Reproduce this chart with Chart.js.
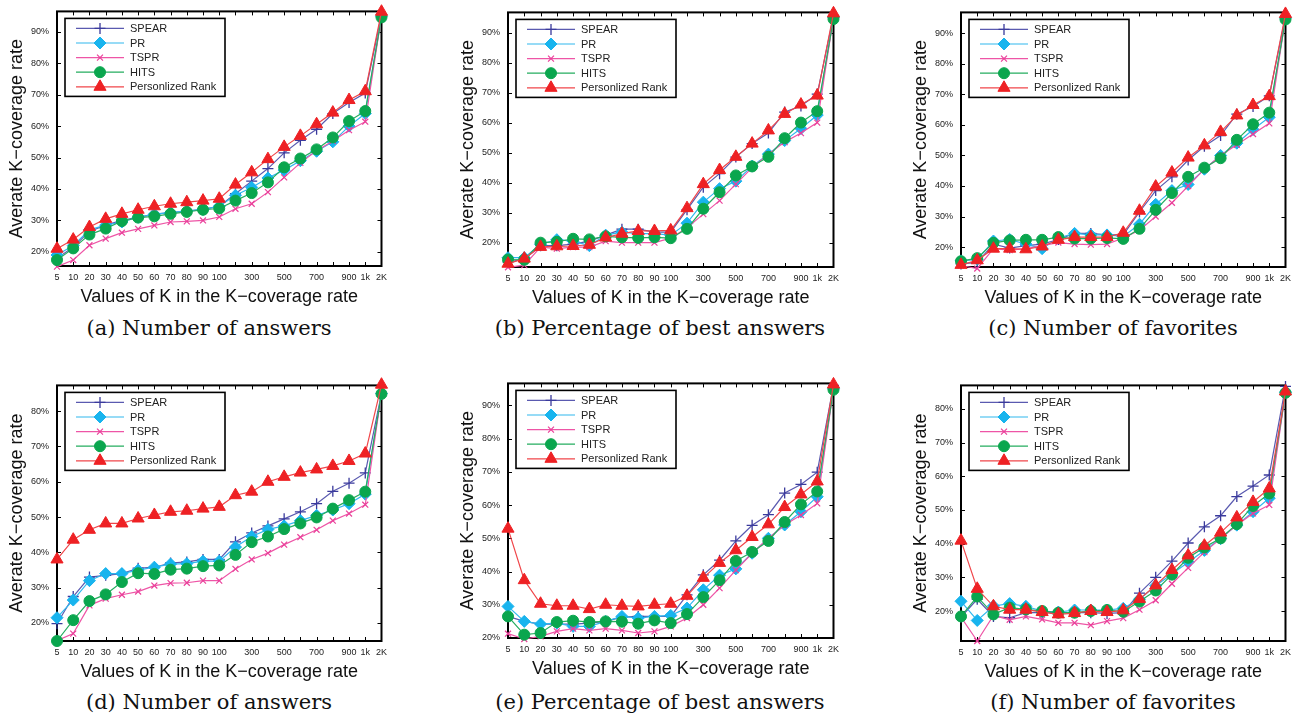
<!DOCTYPE html>
<html>
<head>
<meta charset="utf-8">
<script src="https://cdn.jsdelivr.net/npm/chart.js@4.4.1/dist/chart.umd.min.js"></script>
<style>
  html, body { margin: 0; padding: 0; background: #fff; width: 1299px; height: 715px; overflow: hidden; }
  .panel { position: absolute; }
  .caption { position: absolute; width: 440px; text-align: center; font-family: "DejaVu Serif", serif; font-size: 21px; color: #111; line-height: 24px; white-space: nowrap; }
</style>
</head>
<body>
<div class="panel" id="pa"><canvas id="ca"></canvas></div>
<div class="panel" id="pb"><canvas id="cb"></canvas></div>
<div class="panel" id="pc"><canvas id="cc"></canvas></div>
<div class="panel" id="pd"><canvas id="cd"></canvas></div>
<div class="panel" id="pe"><canvas id="ce"></canvas></div>
<div class="panel" id="pf"><canvas id="cf"></canvas></div>
<div class="caption" id="capa">(a) Number of answers</div>
<div class="caption" id="capb">(b) Percentage of best answers</div>
<div class="caption" id="capc">(c) Number of favorites</div>
<div class="caption" id="capd">(d) Number of answers</div>
<div class="caption" id="cape">(e) Percentage of best answers</div>
<div class="caption" id="capf">(f) Number of favorites</div>
<script>
// ---------- DATA ----------
const categories = ['5','10','20','30','40','50','60','70','80','90','100','200','300','400','500','600','700','800','900','1k','2K'];
const tickLabels = ['5','10','20','30','40','50','60','70','80','90','100','','300','','500','','700','','900','1k','2K'];
const seriesNames = ['SPEAR','PR','TSPR','HITS','Personlized Rank'];
const captions = ['(a) Number of answers','(b) Percentage of best answers','(c) Number of favorites','(d) Number of answers','(e) Percentage of best answers','(f) Number of favorites'];
const yTickValues = [20, 30, 40, 50, 60, 70, 80, 90];

const aSpear = [18, 21.5, 26.5, 28.5, 30, 31, 32, 32.5, 33, 33.5, 34.5, 38.5, 42.5, 46.5, 51.5, 55.5, 59, 64, 67.5, 70.5, 95.5];
const aPr    = [19, 22, 27, 28.5, 29.5, 31, 32, 32.5, 33, 33.5, 34.5, 38, 40.5, 43.5, 46, 49, 52, 55, 60, 64, 95];
const aTspr  = [15.3, 17.4, 22.1, 24.2, 26.1, 27.3, 28.4, 29.5, 29.7, 30.0, 31.1, 33.7, 35.3, 39, 43.7, 48.3, 52.2, 55.3, 58.7, 61.4, 95];
const aHits  = [17.4, 21.1, 25.5, 27.4, 29.8, 30.9, 31.3, 32.1, 32.7, 33.4, 33.8, 36.3, 38.7, 42.1, 46.9, 49.7, 52.6, 56.4, 61.6, 64.8, 94.6];
const aPers  = [21.0, 23.9, 27.9, 30.5, 32.1, 33.4, 34.5, 35.3, 35.8, 36.3, 36.9, 41.4, 45.3, 49.5, 53.4, 56.9, 60.6, 64.3, 68.3, 71.1, 96.4];

const bSpear = [13.5, 14.5, 19, 19, 19.5, 20.5, 22.5, 24.5, 24.5, 23.5, 23.5, 31, 38.5, 43, 48.5, 53, 56.5, 63.5, 65.5, 69.5, 95.5];
const bPr    = [15, 15, 19.5, 21, 20.5, 19, 22.5, 23.5, 23, 23, 22.5, 26.5, 33.5, 38, 40.5, 45.5, 49.5, 54, 58, 62.5, 95];
const bTspr  = [11.8, 12.5, 18.5, 18, 18.5, 18.5, 20.5, 20, 20, 20, 21.5, 25, 29.5, 34, 39.5, 45, 49.5, 53.5, 56.5, 60, 95];
const bHits  = [14.4, 14.3, 20, 20.3, 21.3, 21.1, 22.1, 21.8, 21.6, 21.8, 21.5, 24.6, 31.3, 36.8, 42.4, 45.4, 48.6, 54.8, 60, 63.8, 94.5];
const bPers  = [13.0, 14.7, 18.6, 18.8, 18.9, 19.3, 21.7, 23, 23.9, 23.9, 24.1, 31.5, 39.5, 44.2, 48.6, 53, 57.4, 62.9, 66, 69, 96.4];

const cSpear = [14.5, 15, 21, 19.7, 20.5, 21, 22.5, 24.5, 24.5, 24, 24, 31.5, 38.5, 43, 48.5, 53, 56.5, 63.5, 66, 69.5, 95.5];
const cPr    = [15.5, 16, 22, 22.5, 21, 19.5, 23, 24.5, 24, 24, 23.5, 27.5, 34, 38.5, 40.5, 45.5, 50, 54, 58.5, 62.5, 95];
const cTspr  = [14, 13, 19.5, 19, 19.5, 20.5, 21.5, 21, 20.8, 21, 23, 25.5, 30, 34.5, 40, 45.5, 50, 53.5, 57, 60.5, 95];
const cHits  = [15.4, 16.4, 21.4, 22.2, 22.4, 22.4, 23.3, 22.8, 22.8, 23, 22.7, 26, 32.2, 37.7, 43, 46, 49.1, 55.1, 60.2, 64, 94.5];
const cPers  = [14.2, 15.7, 19.5, 19.5, 19.3, 20.2, 22.4, 23.3, 23.3, 23.3, 24.7, 31.9, 39.8, 44.4, 49.3, 53.3, 57.7, 63.1, 66.5, 69.4, 96.3];

const dSpear = [19.8, 27.5, 33, 33.5, 34, 35.5, 35.8, 37, 37.3, 38, 38, 43, 45.5, 47.5, 49.5, 51.5, 53.8, 57.3, 59.6, 62.5, 85];
const dPr    = [21.5, 26.5, 32, 34, 34, 35, 35.8, 36.7, 36.8, 37.5, 37.5, 41.5, 44.5, 46.5, 47.5, 49, 50.5, 52, 53.8, 56.5, 85];
const dTspr  = [15, 17, 25, 26.9, 28, 28.9, 30.6, 31.3, 31.4, 32, 32, 35.3, 38, 39.8, 42.2, 44.3, 46.4, 49, 51, 53.5, 85];
const dHits  = [14.9, 20.8, 26.2, 28.1, 31.6, 34.1, 33.9, 35.1, 35.4, 36.1, 36.3, 39.3, 42.9, 44.5, 46.6, 48.2, 49.9, 52.4, 54.8, 57.2, 84.9];
const dPers  = [38.0, 43.6, 46.4, 48.2, 48.2, 49.6, 50.6, 51.5, 51.8, 52.4, 52.9, 56.2, 57.2, 60, 61.4, 62.6, 63.5, 64.5, 65.9, 68, 87.5];

const eSpear = [26.5, 25, 24.2, 24.2, 24.2, 24.5, 25, 26.3, 26.5, 26.5, 26.5, 33, 39, 43.4, 49.2, 53.9, 57.1, 63.6, 66.2, 69.9, 96];
const ePr    = [29.5, 25, 24.2, 24.5, 23.5, 23.5, 25, 26.5, 26, 26.5, 26.8, 29, 34.5, 38.9, 40.8, 45.5, 50, 54, 58, 62.5, 95];
const eTspr  = [21.3, 19.7, 20.5, 22, 22.8, 22.3, 22.8, 22.3, 21.5, 22, 23.5, 26, 30, 35, 40.4, 45.5, 50, 54, 57, 60.5, 95];
const eHits  = [26.5, 21, 21.5, 24.8, 25.2, 24.8, 25, 24.9, 24.3, 25.3, 24.5, 27.2, 32.3, 37.4, 43.2, 45.9, 49.2, 54.9, 60.2, 64.1, 94.7];
const ePers  = [52.9, 37.4, 30.3, 29.7, 29.7, 28.7, 30, 29.7, 29.5, 30, 30.3, 32.7, 38.1, 42.6, 46.4, 50.4, 54.2, 59.4, 63.2, 67.1, 96.3];

const fSpear = [18.2, 23.5, 18.4, 18, 19.5, 19.5, 19.5, 19.5, 19.5, 19.3, 19.5, 25.3, 30, 34.8, 40.2, 45, 48.3, 54, 57.1, 60.4, 86.7];
const fPr    = [22.9, 17.2, 21.5, 22.2, 21.4, 20, 19.7, 20.3, 20.3, 20.3, 20.8, 23.5, 27.5, 31, 34.5, 38, 41.5, 45.5, 49.5, 53.5, 85];
const fTspr  = [18.2, 11.1, 18.7, 17.4, 18.4, 17.5, 16.5, 16.5, 15.8, 17, 17.9, 20.4, 23.2, 28.1, 32.8, 37.5, 41.5, 45.5, 49, 51.5, 85];
const fHits  = [18.4, 24.3, 19, 21, 20.5, 20, 19.5, 19.5, 20, 20.3, 19.8, 22.8, 26.1, 30.8, 35.8, 38.9, 41.6, 45.8, 51.2, 54.9, 84.8];
const fPers  = [40.9, 26.6, 21.4, 20.4, 20.4, 19.7, 19, 19.4, 20, 19.7, 20.2, 23.6, 27.6, 32.2, 36.5, 39.4, 43.3, 47.8, 52.4, 56.4, 85.2];

const yMins = [15.5, 11.9, 13.5, 14.9, 20, 11.1];
const yMaxs = [96.5, 96.7, 96.8, 87.3, 96.6, 87.0];

// ---------- STYLE / LAYOUT ----------
const seriesStyle = [
  { color: '#3a3a9c', line: '#5a5ab0', pointStyle: 'cross',    radius: 5.5, bw: 1.3, fill: false },
  { color: '#18b4ee', line: '#30b8ee', pointStyle: 'rectRot',  radius: 6,   bw: 1,   fill: true },
  { color: '#ea3f9a', line: '#ee55a6', pointStyle: 'crossRot', radius: 4.2, bw: 1.2, fill: false },
  { color: '#0aa64e', line: '#25ad5f', pointStyle: 'circle',   radius: 5.5, bw: 1,   fill: true },
  { color: '#ee2124', line: '#f0464a', pointStyle: 'triangle', radius: 7,   bw: 1,   fill: true }
];
// plot rectangles [left, top, right, bottom]
const plotRects = [
  [57, 10, 383, 266], [508, 11, 835, 267], [961, 11, 1287, 267],
  [57, 384, 383, 641], [508, 382, 835, 638], [961, 384, 1287, 641]
];
const captionCenters = [[209, 328], [660, 328], [1113, 328], [209, 702], [660, 702], [1113, 702]];
const AXW = 57, PADT = 12, PADR = 10, AXH = 46;

const panelData = [
  [aSpear, aPr, aTspr, aHits, aPers],
  [bSpear, bPr, bTspr, bHits, bPers],
  [cSpear, cPr, cTspr, cHits, cPers],
  [dSpear, dPr, dTspr, dHits, dPers],
  [eSpear, ePr, eTspr, eHits, ePers],
  [fSpear, fPr, fTspr, fHits, fPers]
];

function drawMarker(ctx, st, x, y) {
  ctx.save();
  ctx.strokeStyle = st.color;
  ctx.fillStyle = st.color;
  ctx.lineWidth = st.bw;
  Chart.helpers.drawPoint(ctx, { pointStyle: st.pointStyle, radius: st.radius, rotation: 0, borderWidth: st.bw }, x, y);
  ctx.restore();
}

const framePlugin = {
  id: 'frame',
  beforeDatasetsDraw(chart) {
    const { ctx, chartArea: a, scales } = chart;
    const xs = scales.x, ys = scales.y;
    ctx.save();
    ctx.strokeStyle = '#000';
    ctx.lineWidth = 1;
    const TL = 4;
    ctx.beginPath();
    for (let i = 0; i < categories.length; i++) {
      const px = Math.round(xs.getPixelForValue(i)) + 0.5;
      ctx.moveTo(px, a.bottom); ctx.lineTo(px, a.bottom - TL);
      ctx.moveTo(px, a.top); ctx.lineTo(px, a.top + TL);
    }
    for (const v of yTickValues) {
      if (v < ys.min || v > ys.max) continue;
      const py = Math.round(ys.getPixelForValue(v)) + 0.5;
      ctx.moveTo(a.left, py); ctx.lineTo(a.left + TL, py);
      ctx.moveTo(a.right, py); ctx.lineTo(a.right - TL, py);
    }
    ctx.stroke();
    ctx.lineWidth = 2;
    ctx.strokeRect(a.left, a.top, a.right - a.left, a.bottom - a.top);
    ctx.restore();
  },
  afterDatasetsDraw(chart) {
    const { ctx, chartArea: a } = chart;
    const bx = a.left + 8, by = a.top + 7, bw = 160, bh = 78;
    ctx.save();
    ctx.fillStyle = '#fff';
    ctx.fillRect(bx, by, bw, bh);
    ctx.strokeStyle = '#000';
    ctx.lineWidth = 1.6;
    ctx.strokeRect(bx, by, bw, bh);
    ctx.font = '11px "Liberation Sans", Arial, sans-serif';
    ctx.textBaseline = 'middle';
    ctx.textAlign = 'left';
    seriesNames.forEach((name, i) => {
      const st = seriesStyle[i];
      const y = by + 10 + i * 14.6;
      ctx.strokeStyle = st.line;
      ctx.lineWidth = 1.2;
      ctx.beginPath(); ctx.moveTo(bx + 11, y); ctx.lineTo(bx + 59, y); ctx.stroke();
      drawMarker(ctx, st, bx + 35, y);
      ctx.fillStyle = '#222';
      ctx.fillText(name, bx + 65, y + 0.5);
    });
    ctx.restore();
  }
};

panelData.forEach((series, p) => {
  const [L, T, R, B] = plotRects[p];
  const id = 'abcdef'[p];
  const div = document.getElementById('p' + id);
  const w = (R - L) + AXW + PADR, h = (B - T) + PADT + AXH;
  div.style.left = (L - AXW) + 'px';
  div.style.top = (T - PADT) + 'px';
  div.style.width = w + 'px';
  div.style.height = h + 'px';
  const cap = document.getElementById('cap' + id);
  cap.textContent = captions[p];
  cap.style.left = (captionCenters[p][0] - 220) + 'px';
  cap.style.top = (captionCenters[p][1] - 12) + 'px';

  const datasets = series.map((vals, i) => {
    const st = seriesStyle[i];
    return {
      label: seriesNames[i],
      data: vals,
      borderColor: st.line,
      borderWidth: 1.2,
      pointStyle: st.pointStyle,
      pointRadius: st.radius,
      pointHoverRadius: st.radius,
      pointBorderColor: st.color,
      pointBackgroundColor: st.fill ? st.color : 'rgba(0,0,0,0)',
      pointBorderWidth: st.bw,
      tension: 0,
      clip: false,
      order: 5 - i
    };
  });

  new Chart(document.getElementById('c' + id), {
    type: 'line',
    data: { labels: categories, datasets },
    plugins: [framePlugin],
    options: {
      responsive: true,
      maintainAspectRatio: false,
      animation: false,
      events: [],
      layout: { padding: { top: PADT, right: PADR, left: 0, bottom: 0 } },
      plugins: { legend: { display: false }, tooltip: { enabled: false } },
      scales: {
        x: {
          type: 'category',
          offset: false,
          grid: { display: false, drawTicks: false },
          border: { display: false },
          ticks: {
            autoSkip: false, maxRotation: 0, minRotation: 0, padding: 6,
            color: '#222',
            font: { family: '"Liberation Sans", Arial, sans-serif', size: 9 },
            callback: (v, i) => tickLabels[i]
          },
          title: {
            display: true, text: 'Values of K in the K\u2212coverage rate',
            color: '#111',
            font: { family: '"Liberation Sans", Arial, sans-serif', size: 18 },
            padding: { top: 0, bottom: 4 }
          },
          afterFit: s => { s.height = AXH; }
        },
        y: {
          type: 'linear',
          min: yMins[p], max: yMaxs[p],
          grid: { display: false, drawTicks: false },
          border: { display: false },
          afterBuildTicks: s => { s.ticks = yTickValues.filter(v => v >= s.min && v <= s.max).map(v => ({ value: v })); },
          ticks: {
            padding: 8, color: '#222',
            font: { family: '"Liberation Sans", Arial, sans-serif', size: 9 },
            callback: v => v + '%'
          },
          title: {
            display: true, text: 'Averate K\u2212coverage rate',
            color: '#111',
            font: { family: '"Liberation Sans", Arial, sans-serif', size: 18 },
            padding: { top: 6, bottom: 0 }
          },
          afterFit: s => { s.width = AXW; }
        }
      }
    }
  });
});
</script>
</body>
</html>
